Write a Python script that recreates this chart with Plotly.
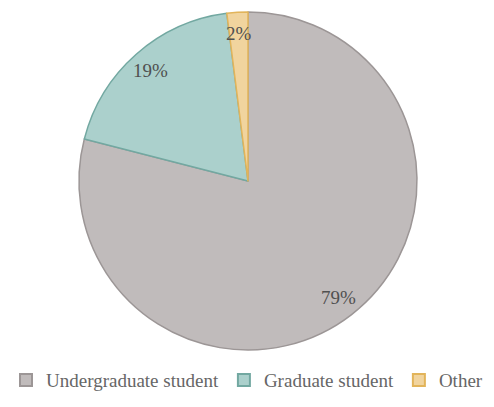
import math
import plotly.graph_objects as go

# Respondent status shares (%)
categories = ["Undergraduate student", "Graduate student", "Other"]
shares = [79, 19, 2]

fill_colors = ["#c0bbbb", "#abd0cc", "#f1d49e"]
edge_colors = ["#9c9696", "#72a8a1", "#e2b45a"]

W, H = 494, 407
CX, CY = 248, 226          # pie centre in px (y measured from bottom)
R = 169                    # pie radius in px

fig = go.Figure(go.Pie(
    labels=categories,
    values=shares,
    sort=False,
    direction="clockwise",
    rotation=0,
    textposition="none",
    marker=dict(colors=fill_colors, line=dict(color=edge_colors, width=1.5)),
    domain=dict(x=[(CX - R) / W, (CX + R) / W], y=[(CY - R) / H, (CY + R) / H]),
    hoverinfo="label+percent",
))

# Percentage labels placed along each slice's mid-angle, near the rim
total = sum(shares)
start = 0.0
annotations = []
for val in shares:
    frac = val / total
    mid = (start + frac / 2) * 2 * math.pi
    start += frac
    rr = 0.875 * R
    x = (CX + rr * math.sin(mid)) / W
    y = (CY + rr * math.cos(mid)) / H
    annotations.append(dict(
        x=x, y=y, xref="paper", yref="paper", showarrow=False,
        xanchor="center", yanchor="middle",
        text=f"{val}%", font=dict(family="Liberation Serif", size=19, color="#505050"),
    ))

fig.update_layout(
    width=W, height=H,
    margin=dict(l=0, r=0, t=0, b=0),
    paper_bgcolor="white", plot_bgcolor="white",
    annotations=annotations,
    showlegend=True,
    legend=dict(
        orientation="h", x=0.5, xanchor="center", y=0.066, yanchor="middle",
        font=dict(family="Liberation Serif", size=19, color="#666666"),
        itemsizing="constant", traceorder="normal", itemwidth=30,
    ),
)

fig.write_html("out.html")
